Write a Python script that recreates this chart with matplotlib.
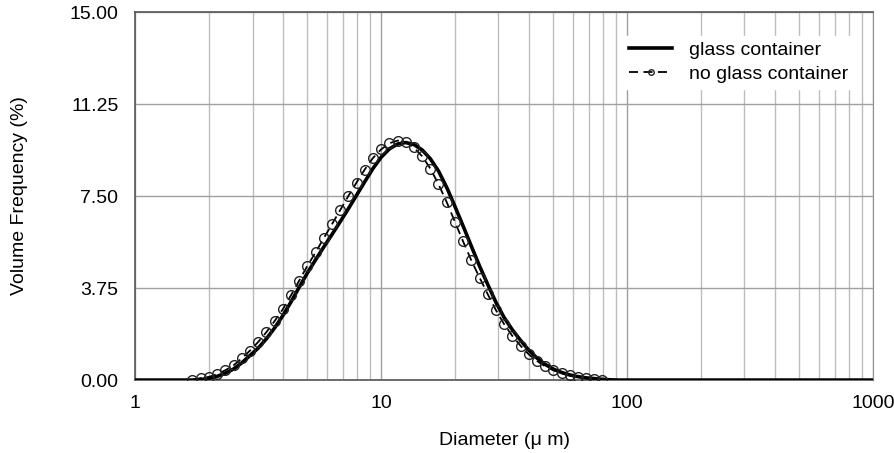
import numpy as np
import matplotlib.pyplot as plt
from matplotlib.ticker import FixedLocator, FixedFormatter, LogLocator, NullFormatter

# Particle size bins (um), zero tails at both ends
diameter = [1.0, 1.585, 1.710, 1.848, 1.995, 2.154, 2.326, 2.512, 2.712, 2.929,
            3.162, 3.415, 3.687, 3.981, 4.299, 4.642, 5.012, 5.412, 5.843, 6.310,
            6.813, 7.356, 7.943, 8.577, 9.261, 10.00, 10.80, 11.66, 12.59, 13.59,
            14.68, 15.85, 17.11, 18.48, 19.95, 21.54, 23.26, 25.12, 27.12, 29.29,
            31.62, 34.15, 36.87, 39.81, 42.99, 46.42, 50.12, 54.12, 58.43, 63.10,
            68.13, 73.56, 79.43, 85.77, 92.61, 100.0, 1000.0]

glass = [0.0, 0.0, 0.0, 0.02, 0.07, 0.15, 0.28, 0.45, 0.70, 1.00,
         1.30, 1.68, 2.12, 2.62, 3.18, 3.78, 4.36, 4.90, 5.42, 5.93,
         6.45, 6.98, 7.53, 8.08, 8.62, 9.08, 9.42, 9.62, 9.68, 9.60,
         9.38, 9.02, 8.52, 7.85, 7.08, 6.28, 5.46, 4.65, 3.90, 3.17,
         2.55, 2.05, 1.62, 1.22, 0.90, 0.64, 0.45, 0.31, 0.21, 0.14,
         0.09, 0.06, 0.03, 0.01, 0.0, 0.0, 0.0]

no_glass = [0.0, 0.0, 0.01, 0.08, 0.13, 0.24, 0.40, 0.60, 0.88, 1.20,
            1.55, 1.95, 2.40, 2.88, 3.45, 4.05, 4.65, 5.20, 5.78, 6.35,
            6.92, 7.50, 8.05, 8.58, 9.05, 9.40, 9.65, 9.76, 9.70, 9.48,
            9.12, 8.62, 7.98, 7.25, 6.45, 5.65, 4.88, 4.18, 3.50, 2.85,
            2.28, 1.80, 1.40, 1.05, 0.78, 0.56, 0.40, 0.28, 0.19, 0.13,
            0.08, 0.05, 0.02, 0.0, 0.0, 0.0, 0.0]

yticks = [0.0, 3.75, 7.50, 11.25, 15.00]
xticks = [1, 10, 100, 1000]

plt.rcParams['font.family'] = ['Liberation Sans', 'DejaVu Sans']

fig = plt.figure(figsize=(8.95, 4.53), dpi=100)
ax = fig.add_axes([0.151, 0.161, 0.8245, 0.8125])

ax.plot(diameter, glass, '-', color='black', lw=2.6, label='glass container', zorder=3)

# markers only on bins with a value
mark = [v > 0 for v in no_glass]
ax.plot(diameter, no_glass, '--', color='black', lw=1.3, dashes=(5, 3),
        marker='o', markersize=7, markerfacecolor='none', markeredgecolor='#222222',
        markeredgewidth=1.0, markevery=mark, label='no glass container', zorder=4)

ax.set_xscale('log')
ax.set_xlim(1, 1000)
ax.set_ylim(0, 15)

ax.xaxis.set_major_locator(FixedLocator(xticks))
ax.xaxis.set_major_formatter(FixedFormatter([str(t) for t in xticks]))
ax.xaxis.set_minor_locator(LogLocator(base=10, subs=np.arange(2, 10)))
ax.xaxis.set_minor_formatter(NullFormatter())
ax.set_yticks(yticks)
ax.set_yticklabels(['%.2f' % t for t in yticks])

ax.grid(True, which='major', axis='both', color='#a0a0a0', lw=1.0)
ax.grid(True, which='minor', axis='x', color='#bdbdbd', lw=1.0)
ax.set_axisbelow(True)

ax.tick_params(axis='both', which='both', length=0, labelsize=14, colors='black')
ax.tick_params(axis='y', pad=12)
ax.tick_params(axis='x', pad=11)

for s in ['left', 'bottom', 'top']:
    ax.spines[s].set_color('#606060')
    ax.spines[s].set_linewidth(1.3)
ax.spines['right'].set_color('#909090')

ax.set_xlabel('Diameter (μ m)', fontsize=14, labelpad=14)
ax.set_ylabel('Volume Frequency (%)', fontsize=14, labelpad=30)

leg = ax.legend(loc='upper right', bbox_to_anchor=(0.988, 0.962), frameon=True,
                fontsize=14, handlelength=2.2, handletextpad=0.9, borderpad=0.3,
                labelspacing=0.32, fancybox=False, numpoints=1)
leg.get_frame().set_edgecolor('white')
leg.get_frame().set_facecolor('white')
leg.get_frame().set_alpha(1.0)
leg.legend_handles[1].set_markersize(4)

plt.savefig('out.png', dpi=100)
